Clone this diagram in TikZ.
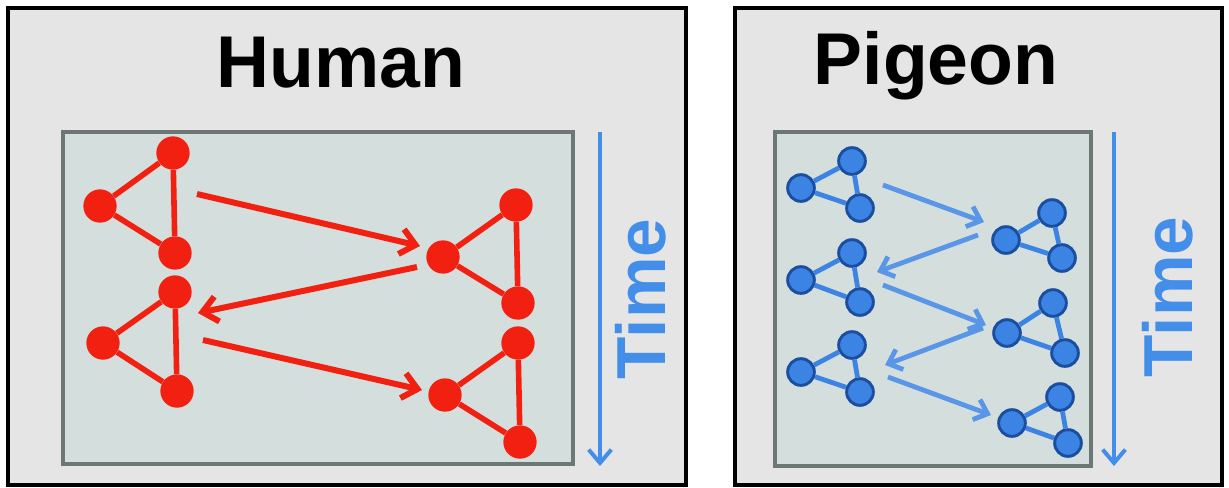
\documentclass[tikz,border=0pt]{standalone}
\usepackage{fontspec}
\setmainfont{Liberation Sans}
\usepackage{xcolor}
\usetikzlibrary{arrows.meta}
\definecolor{panelgray}{RGB}{229,229,229}
\definecolor{innerfill}{RGB}{212,222,220}
\definecolor{innerline}{RGB}{108,120,118}
\definecolor{hred}{RGB}{242,32,16}
\definecolor{pblue}{RGB}{60,132,228}
\definecolor{pbluedark}{RGB}{28,78,160}
\definecolor{timeblue}{RGB}{66,142,232}
\begin{document}
\begin{tikzpicture}[x=0.75pt,y=-0.75pt,
  panel/.style={draw=black,line width=2.6pt,fill=panelgray},
  inner/.style={draw=innerline,line width=2.6pt,fill=innerfill},
  title/.style={font=\bfseries\fontsize{55}{60}\selectfont,anchor=base,inner sep=0pt},
  timelabel/.style={font=\bfseries\fontsize{52}{60}\selectfont,text=timeblue,rotate=90,inner sep=0pt},
  timearrow/.style={draw=timeblue,line width=3pt,-{Straight Barb[length=10pt,width=17pt]}},
  rdot/.style={circle,fill=hred,minimum size=25pt,inner sep=0pt},
  redge/.style={draw=hred,line width=4.2pt},
  rarrow/.style={draw=hred,line width=4.5pt,-{Straight Barb[length=11pt,width=19pt]}},
  bdot/.style={circle,fill=pblue,draw=pbluedark,line width=2.2pt,minimum size=20pt,inner sep=0pt},
  bedge/.style={draw=pblue,line width=3.6pt},
  barrow/.style={draw=pblue!85!white,line width=3.6pt,-{Straight Barb[length=9pt,width=16pt]}}]
\useasboundingbox (0,0) rectangle (1229,487);
% panels
\draw [panel] (8,8) rectangle (686,485);
\draw [panel] (735,8) rectangle (1222,485);
\node [title] (humantitle) at (341,87) {Human};
\node [title] (pigeontitle) at (936,84) {Pigeon};
\draw [inner] (63,132) rectangle (573,464);
\draw [inner] (775,132) rectangle (1091,466);
% time axes
\coordinate (ht0) at (600,132);
\coordinate (ht1) at (600,466);
\draw [timearrow] (ht0) -- (ht1);
\node [timelabel] (htime) at (641,299) {Time};
\coordinate (pt0) at (1114,132);
\coordinate (pt1) at (1114,466);
\draw [timearrow] (pt0) -- (pt1);
\node [timelabel] (ptime) at (1168,297) {Time};
% human graphs
\node [rdot] (h1a) at (173,153) {};
\node [rdot] (h1b) at (100,206) {};
\node [rdot] (h1c) at (175,253) {};
\node [rdot] (h2a) at (516,205) {};
\node [rdot] (h2b) at (443,257) {};
\node [rdot] (h2c) at (518,303) {};
\node [rdot] (h3a) at (175,292) {};
\node [rdot] (h3b) at (103,343) {};
\node [rdot] (h3c) at (177,391) {};
\node [rdot] (h4a) at (518,343) {};
\node [rdot] (h4b) at (445,395) {};
\node [rdot] (h4c) at (520,442) {};
\draw [redge] (h1b) -- (h1a) -- (h1c) -- (h1b);
\draw [redge] (h2b) -- (h2a) -- (h2c) -- (h2b);
\draw [redge] (h3b) -- (h3a) -- (h3c) -- (h3b);
\draw [redge] (h4b) -- (h4a) -- (h4c) -- (h4b);
\coordinate (hs1) at (197,194);
\coordinate (he1) at (420,246);
\coordinate (hs2) at (417,267);
\coordinate (he2) at (198,313);
\coordinate (hs3) at (203,340);
\coordinate (he3) at (422,390);
\draw [rarrow] (hs1) -- (he1);
\draw [rarrow] (hs2) -- (he2);
\draw [rarrow] (hs3) -- (he3);
% pigeon graphs
\node [bdot] (p1a) at (852,161) {};
\node [bdot] (p1b) at (801,188) {};
\node [bdot] (p1c) at (860,208) {};
\node [bdot] (p2a) at (1052,213) {};
\node [bdot] (p2b) at (1006,240) {};
\node [bdot] (p2c) at (1062,258) {};
\node [bdot] (p3a) at (852,253) {};
\node [bdot] (p3b) at (801,280) {};
\node [bdot] (p3c) at (860,302) {};
\node [bdot] (p4a) at (1053,303) {};
\node [bdot] (p4b) at (1007,333) {};
\node [bdot] (p4c) at (1065,353) {};
\node [bdot] (p5a) at (852,345) {};
\node [bdot] (p5b) at (801,372) {};
\node [bdot] (p5c) at (860,392) {};
\node [bdot] (p6a) at (1060,397) {};
\node [bdot] (p6b) at (1012,423) {};
\node [bdot] (p6c) at (1068,443) {};
\draw [bedge] (p1b) -- (p1a) -- (p1c) -- (p1b);
\draw [bedge] (p2b) -- (p2a) -- (p2c) -- (p2b);
\draw [bedge] (p3b) -- (p3a) -- (p3c) -- (p3b);
\draw [bedge] (p4b) -- (p4a) -- (p4c) -- (p4b);
\draw [bedge] (p5b) -- (p5a) -- (p5c) -- (p5b);
\draw [bedge] (p6b) -- (p6a) -- (p6c) -- (p6b);
\coordinate (ps1) at (883,185);
\coordinate (pe1) at (984,222);
\coordinate (ps2) at (978,235);
\coordinate (pe2) at (877,272);
\coordinate (ps3) at (883,285);
\coordinate (pe3) at (986,325);
\coordinate (ps4) at (983,328);
\coordinate (pe4) at (885,365);
\coordinate (ps5) at (888,377);
\coordinate (pe5) at (991,415);
\draw [barrow] (ps1) -- (pe1);
\draw [barrow] (ps2) -- (pe2);
\draw [barrow] (ps3) -- (pe3);
\draw [barrow] (ps4) -- (pe4);
\draw [barrow] (ps5) -- (pe5);
\end{tikzpicture}
\end{document}
